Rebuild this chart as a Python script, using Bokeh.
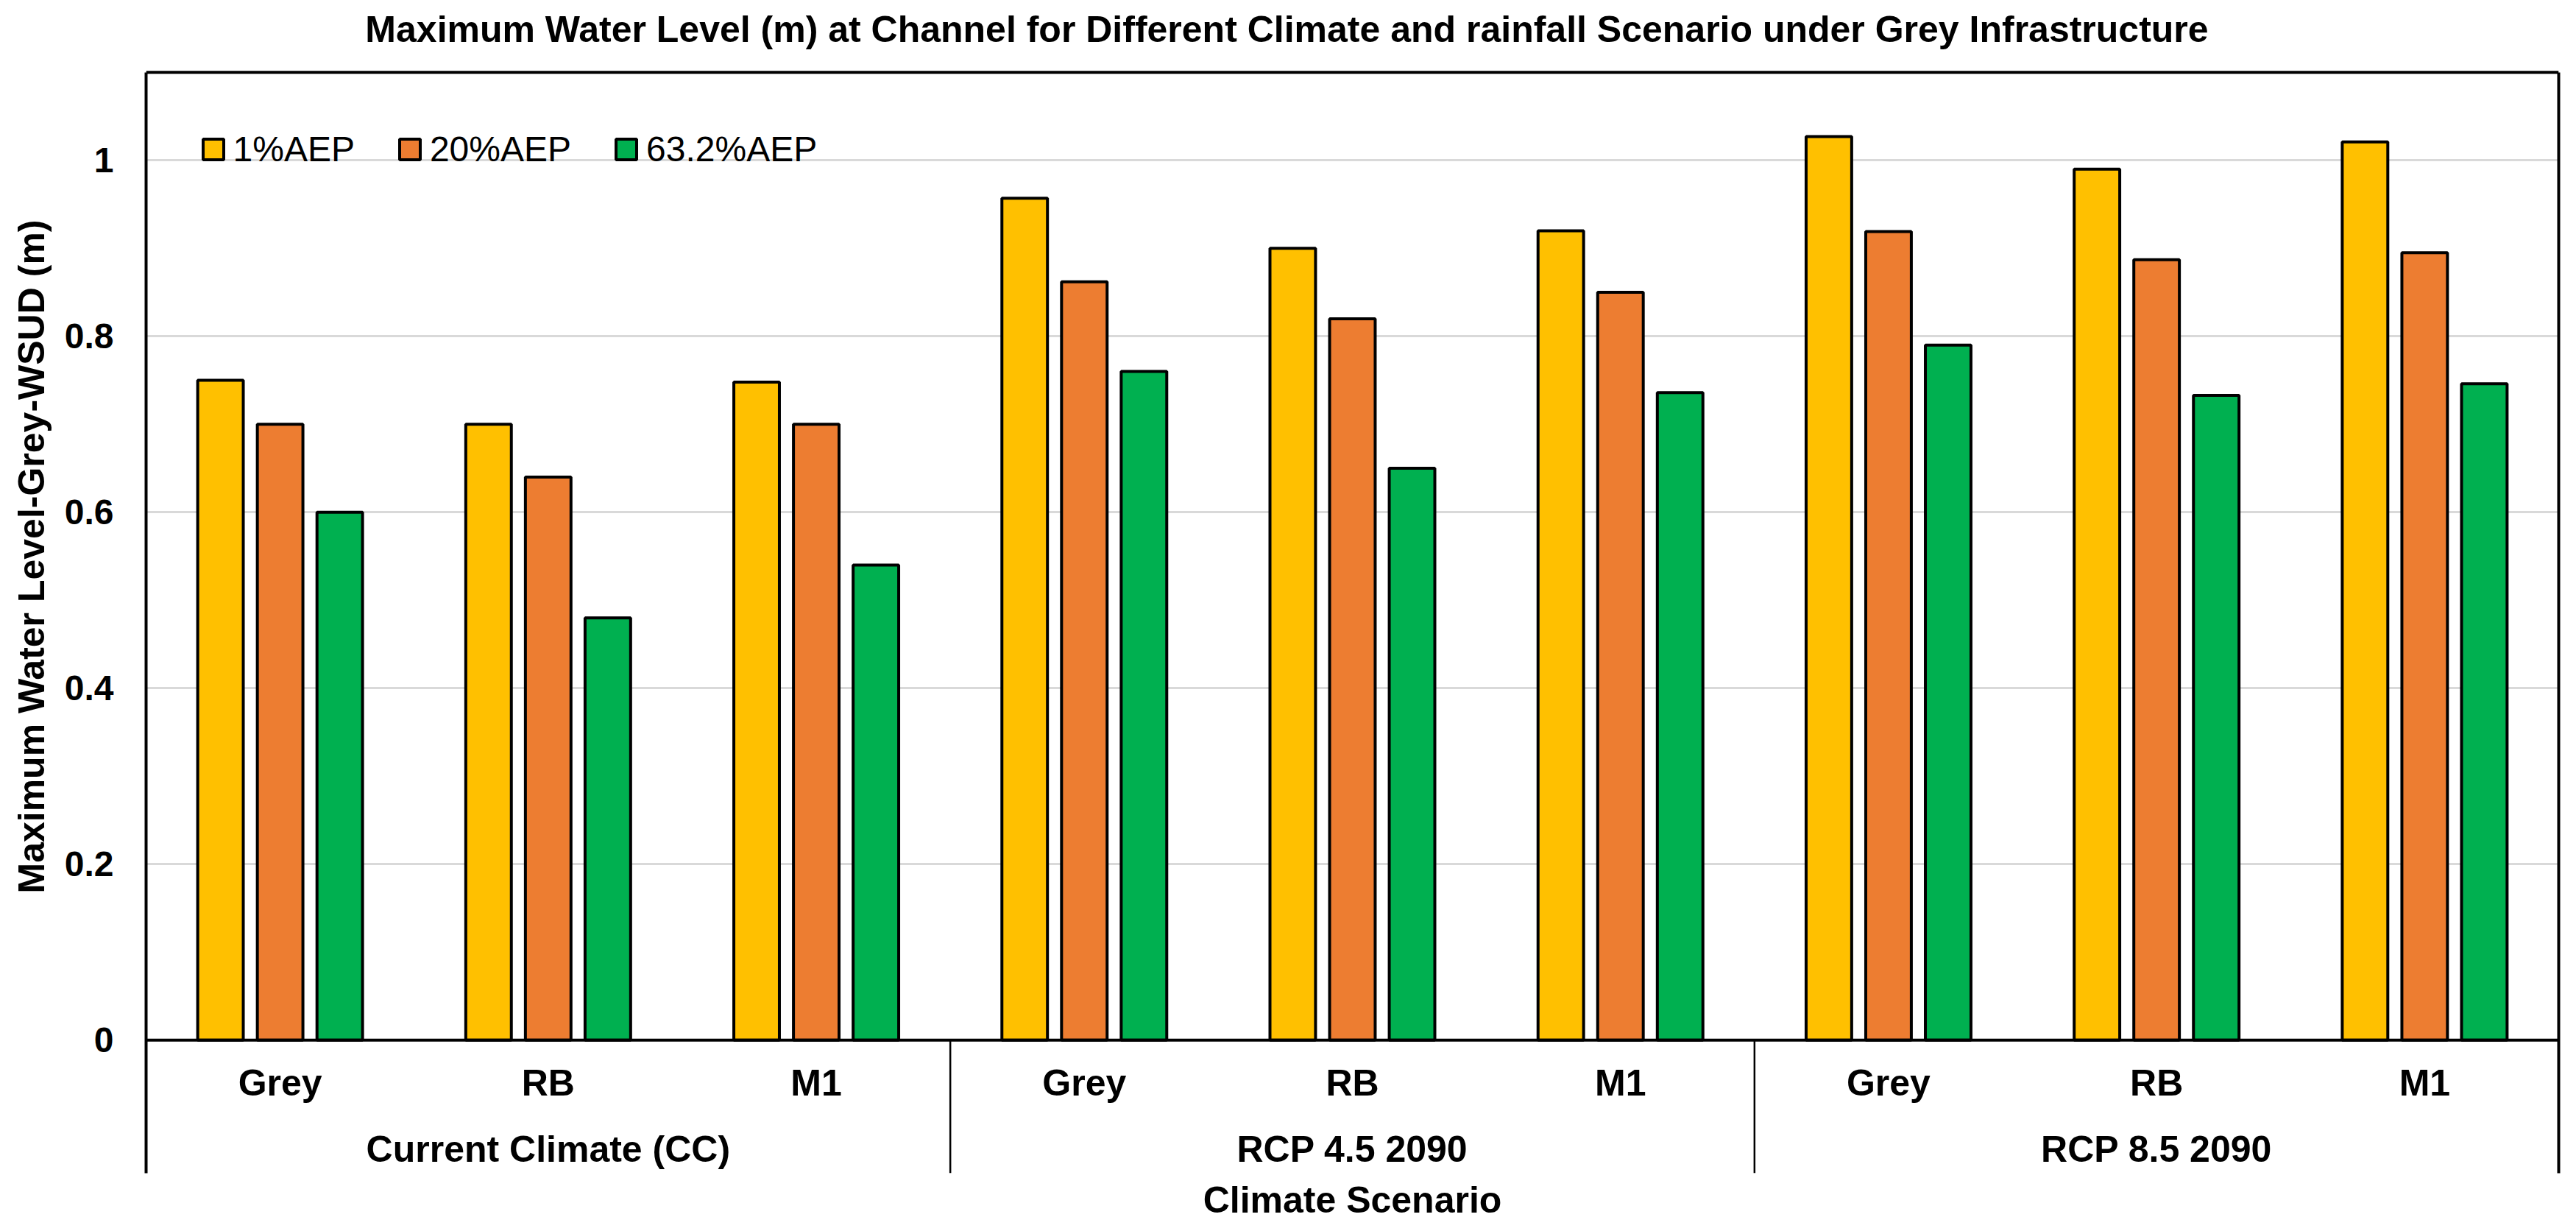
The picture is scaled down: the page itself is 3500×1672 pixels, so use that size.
from bokeh.plotting import figure
from bokeh.models import Range1d, FixedTicker, LinearAxis, Legend, LegendItem, ColumnDataSource, Span, Title
from bokeh.embed import file_html
from bokeh.resources import INLINE
from bokeh.core.properties import value

# ---------------- data ----------------
scenarios = ["Current Climate (CC)", "RCP 4.5 2090", "RCP 8.5 2090"]
options = ["Grey", "RB", "M1"]
series_names = ["1%AEP", "20%AEP", "63.2%AEP"]
aep_1 = [0.750, 0.700, 0.748, 0.957, 0.900, 0.920, 1.027, 0.990, 1.021]
aep_20 = [0.700, 0.640, 0.700, 0.862, 0.820, 0.850, 0.919, 0.887, 0.895]
aep_632 = [0.600, 0.480, 0.540, 0.760, 0.650, 0.736, 0.790, 0.733, 0.746]
y_ticks = [0, 0.2, 0.4, 0.6, 0.8, 1.0]
y_tick_labels = ["0", "0.2", "0.4", "0.6", "0.8", "1"]
colors = ["#FFC000", "#ED7D31", "#00B050"]

title_text = "Maximum Water Level (m) at Channel for Different Climate and rainfall Scenario under Grey Infrastructure"
y_title = "Maximum Water Level-Grey-WSUD (m)"
x_title = "Climate Scenario"

FONT = "Liberation Sans"

# ---------------- layout constants (pixels -> data units) ----------------
PX_PER_UNIT = 1197.3          # vertical pixels per metre
PLOT_TOP = 1.1                # top of the value area
AREA_TOP_PX = 98              # canvas y of the plot-area top border
Y_END = PLOT_TOP + AREA_TOP_PX / PX_PER_UNIT
Y_BOTTOM = -181 / PX_PER_UNIT
SUB_Y = -58 / PX_PER_UNIT
GROUP_Y = -148 / PX_PER_UNIT
TITLE_Y = PLOT_TOP + (AREA_TOP_PX - 40) / PX_PER_UNIT
X_PX_PER_UNIT = 3278 / 9
TITLE_X = (1748 - 198) / X_PX_PER_UNIT
BAR_W = 0.17
OFFSET = 0.2225

n_cat = len(scenarios) * len(options)
centers = [i + 0.5 for i in range(n_cat)]
sub_labels = [o for s in scenarios for o in options]

p = figure(width=3484, height=1660, output_backend="svg", toolbar_location=None, title=None,
           x_range=Range1d(0, n_cat), y_range=Range1d(Y_BOTTOM, Y_END),
           min_border_left=198, min_border_right=8, min_border_top=0, min_border_bottom=64)
p.outline_line_color = None
p.background_fill_color = "white"
p.border_fill_color = "white"

# bottom axis: only the axis title
xa = p.below[0]
xa.ticker = FixedTicker(ticks=[])
xa.axis_line_color = None
xa.major_tick_line_color = None
xa.minor_tick_line_color = None
xa.major_label_text_font_size = "0px"
xa.axis_label = x_title
xa.axis_label_text_font = FONT
xa.axis_label_text_font_size = "50px"
xa.axis_label_text_font_style = "bold"
xa.axis_label_text_color = "black"
xa.axis_label_standoff = 8

# left axis
ya = p.left[0]
ya.ticker = FixedTicker(ticks=y_ticks)
ya.bounds = (Y_BOTTOM, PLOT_TOP)
ya.major_label_overrides = {t: l for t, l in zip(y_ticks, y_tick_labels)}
ya.axis_line_width = 4
ya.axis_line_color = "black"
ya.major_tick_line_color = None
ya.minor_tick_line_color = None
ya.major_tick_out = 0
ya.major_tick_in = 0
ya.major_label_standoff = 44
ya.major_label_text_font = FONT
ya.major_label_text_font_size = "48px"
ya.major_label_text_font_style = "bold"
ya.major_label_text_color = "black"

# right border of the plot area
p.add_layout(LinearAxis(ticker=FixedTicker(ticks=[]), bounds=(Y_BOTTOM, PLOT_TOP),
                        axis_line_width=4, axis_line_color="black",
                        major_tick_line_color=None, minor_tick_line_color=None,
                        major_label_text_font_size="0px", major_label_standoff=0), "right")
# top border of the plot area
p.add_layout(Span(location=PLOT_TOP, dimension="width", line_color="black", line_width=4))

# y-axis title, centred on the value part of the axis
p.add_layout(Title(text=y_title, align="left", offset=380, vertical_align="top", standoff=24,
                   text_font=FONT, text_font_size="50px", text_font_style="bold",
                   text_color="black"), "left")

p.xgrid.visible = False
p.ygrid.ticker = FixedTicker(ticks=[t for t in y_ticks if t > 0])
p.ygrid.grid_line_color = "#D9D9D9"
p.ygrid.grid_line_width = 3

# bars
series = [aep_1, aep_20, aep_632]
renderers = []
for k, (vals, col) in enumerate(zip(series, colors)):
    src = ColumnDataSource(dict(x=[c + (k - 1) * OFFSET for c in centers], top=vals))
    r = p.vbar(x="x", top="top", bottom=0, width=BAR_W, source=src,
               fill_color=col, line_color="black", line_width=4)
    renderers.append(r)

p.add_layout(Span(location=0, dimension="width", line_color="black", line_width=4))

# category separators and labels
p.segment(x0=[3, 6], y0=[0, 0], x1=[3, 6], y1=[Y_BOTTOM, Y_BOTTOM], line_color="black", line_width=2.5)
p.text(x=centers, y=[SUB_Y] * n_cat, text=sub_labels, text_align="center", text_baseline="middle",
       text_font=value(FONT), text_font_size="50px", text_font_style="bold", text_color="black")
p.text(x=[1.5, 4.5, 7.5], y=[GROUP_Y] * 3, text=scenarios, text_align="center", text_baseline="middle",
       text_font=value(FONT), text_font_size="50px", text_font_style="bold", text_color="black")

# chart title
p.text(x=[TITLE_X], y=[TITLE_Y], text=[title_text], text_align="center", text_baseline="middle",
       text_font=value(FONT), text_font_size="50px", text_font_style="bold", text_color="black")

legend = Legend(items=[LegendItem(label=n, renderers=[r]) for n, r in zip(series_names, renderers)],
                orientation="horizontal", location=(73.5, 1363), glyph_width=35, glyph_height=35,
                label_standoff=10, spacing=57, padding=0, margin=0,
                label_text_font=FONT, label_text_font_size="48px", label_text_color="black",
                border_line_color=None, background_fill_alpha=0)
p.add_layout(legend)

open("out.html", "w").write(file_html(p, INLINE))
